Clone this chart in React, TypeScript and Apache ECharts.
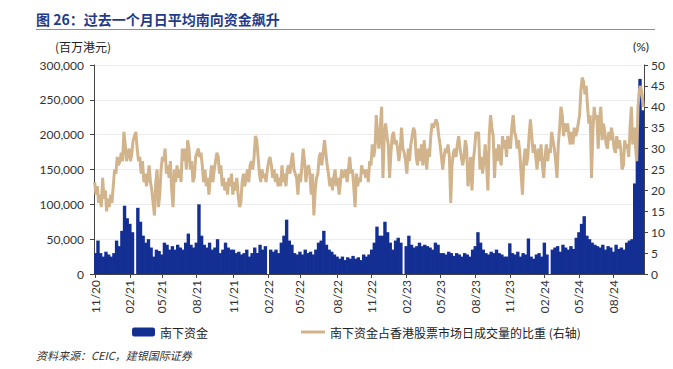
import React, { useEffect, useRef } from "react";
import * as echarts from "echarts";

// Weekly observations starting Monday 2020-11-02
const START_DATE = "2020-11-02";

// 南下资金 (百万港元), weekly readings in thousands
const flowK: number[] = [
  30, 48, 30, 25, 32, 28, 25, 30, 48, 40,
  62, 98, 80, 72, 60, 0, 95, 75, 55, 45,
  50, 38, 25, 35, 33, 28, 45, 42, 35, 40,
  35, 42, 38, 35, 45, 58, 42, 38, 45, 100,
  55, 42, 38, 45, 35, 38, 50, 30, 35, 45,
  38, 35,
  35, 30, 32, 28, 30, 35, 25, 30, 38, 30,
  42, 35, 40, 0, 35, 32, 35, 30, 45, 55,
  78, 48, 42, 30, 28, 32, 28, 35, 30, 32,
  28, 35, 45, 48, 62, 42, 35, 32, 28, 25,
  22, 25, 20, 24, 22, 26, 22, 24, 20, 28,
  25, 28, 35, 45, 68, 55, 55, 75, 60, 45,
  35, 48, 52, 45, 0, 40, 55, 42, 38, 40,
  45, 40, 42, 40, 38, 35, 45, 42, 30, 30,
  28, 32, 30, 26, 30, 28, 25, 30, 28, 25,
  35, 40, 60, 45, 35, 30, 28, 32, 30, 35,
  30, 28, 25, 25, 44, 30, 28, 32, 25, 30,
  28, 51, 25, 22, 28, 30, 25, 45, 28, 0,
  35, 38, 40, 32, 42, 38, 35, 40, 36, 52,
  60, 72, 83, 55, 50, 45, 42, 40, 38, 42,
  35, 40, 38, 32, 42, 36, 38, 35, 45, 48,
  50, 130, 210, 280, 235,
];

// 南下资金占香港股票市场日成交量的比重 (%), half-weekly readings
const sharePct: number[] = [
  22, 19, 21, 17, 19, 16, 23, 18, 20, 15,
  18, 16, 19, 17, 21, 25, 24, 28, 26, 27,
  29, 27, 34, 31, 27, 29, 30, 27, 29, 32,
  33, 34, 30, 27, 28, 24, 27, 22, 24, 21,
  23, 26, 22, 20, 17, 14, 22, 25, 16, 19,
  25, 28, 27, 30, 24, 26, 23, 27, 20, 16,
  25, 22, 26, 23, 25, 22, 30, 27, 30, 25,
  32, 30, 25, 27, 22, 23, 28, 29, 30, 28,
  29, 26, 22, 25, 21, 23, 19, 23, 26, 22,
  25, 27, 29, 28, 24, 26, 21, 23, 20, 22,
  19, 23, 21, 24, 19, 22, 20, 23, 19, 16,
  17, 22, 24, 21, 23, 25, 22, 26, 27, 25,
  28, 33, 32, 28, 24, 22, 25, 23, 24, 22,
  25, 27, 28, 26, 23, 25, 22, 24, 21, 23,
  21, 26, 22, 24, 21, 25, 26, 24, 27, 29,
  25, 24, 23, 19, 24, 22, 26, 30, 27, 22,
  25, 26, 24, 19, 24, 14, 20, 23, 24, 28,
  29, 26, 29, 32, 29, 26, 24, 21, 23, 20,
  23, 25, 21, 23, 19, 22, 25, 23, 24, 25,
  22, 25, 28, 24, 25, 21, 16, 24, 21, 23,
  22, 26, 24, 25, 23, 25, 22, 27, 26, 31,
  28, 30, 38, 33, 30, 35, 40, 23, 33, 36,
  33, 31, 23, 29, 33, 34, 31, 32, 30, 27,
  30, 35, 30, 29, 27, 24, 30, 27, 31, 33,
  35, 34, 28, 26, 30, 27, 31, 26, 32, 28,
  25, 30, 28, 33, 36, 35, 36, 37, 36, 33,
  31, 28, 25, 28, 30, 29, 31, 28, 17, 26,
  29, 30, 28, 31, 33, 30, 28, 26,
  28, 32, 30, 21, 24, 28, 20, 27, 30, 34,
  33, 34, 25, 28, 24, 27, 31, 26, 20, 33,
  38, 35, 33, 23, 30, 27, 31, 28, 26, 33,
  30, 32, 28, 33, 31, 30, 35, 38, 34, 33,
  30, 32, 29, 24, 19, 27, 30, 26, 28, 33,
  37, 33, 29, 31, 28, 25, 30, 27, 31, 26,
  23, 28, 31, 27, 30, 29, 34, 32, 30, 27,
  23, 31, 35, 40, 38, 33, 36, 34, 36, 33,
  31, 34, 31, 35, 33, 34, 36, 38, 44, 47,
  46, 43, 45, 40, 36, 38, 23, 34, 40, 37,
  38, 30, 37, 40, 32, 36, 34, 31, 30, 34,
  32, 35, 33, 30, 29, 33, 30, 32, 30, 25,
  26, 32, 30, 31, 28, 35, 40, 31, 35, 31,
  27, 40, 44, 45, 43, 40,
];

const QUARTER_MONTHS = [2, 5, 8, 11];

const SERIES_FLOW = "南下资金";
const SERIES_SHARE = "南下资金占香港股票市场日成交量的比重 (右轴)";

function buildCategories(n: number) {
  const cats: string[] = [];
  const labels: string[] = [];
  const base = new Date(START_DATE + "T00:00:00Z").getTime();
  const day = 86400000;
  for (let i = 0; i < n; i++) {
    const d = new Date(base + i * 7 * day);
    const e = new Date(base + (i * 7 + 6) * day);
    cats.push(d.toISOString().slice(0, 10));
    const m = i === 0 ? d.getUTCMonth() + 1 : e.getUTCMonth() + 1;
    const yr = i === 0 ? d.getUTCFullYear() : e.getUTCFullYear();
    if ((i === 0 || e.getUTCDate() <= 7) && QUARTER_MONTHS.includes(m)) {
      const mm = String(m).padStart(2, "0");
      const yy = String(yr % 100).padStart(2, "0");
      labels.push(mm + "/" + yy);
    } else {
      labels.push("");
    }
  }
  return { cats, labels };
}

export default function App() {
  const ref = useRef<HTMLDivElement>(null);
  useEffect(() => {
    if (!ref.current) return;
    const chart = echarts.init(ref.current, undefined, { renderer: "svg" });
    const { cats, labels } = buildCategories(flowK.length);
    const flow = flowK.map((v) => v * 1000);
    const halfCats = sharePct.map((_v, i) => String(i));
    const latin = "Lato, 'Noto Sans CJK SC', sans-serif";
    const cjk = "'Noto Sans CJK SC', sans-serif";
    const blue = "#142f93";
    const tan = "#d2b48c";
    chart.setOption({
      animation: false,
      backgroundColor: "#ffffff",
      grid: { left: 94, right: 29, top: 65, bottom: 95 },
      legend: [
        {
          data: [SERIES_FLOW],
          left: 127,
          top: 321,
          itemWidth: 23,
          itemHeight: 9,
          textStyle: { fontFamily: cjk, fontSize: 12, color: "#222" },
        },
        {
          data: [{ name: SERIES_SHARE, icon: "rect" }],
          left: 296,
          top: 321,
          itemWidth: 24,
          itemHeight: 3,
          textStyle: { fontFamily: cjk, fontSize: 12, color: "#222" },
        },
      ],
      xAxis: [
        {
          type: "category",
          data: cats,
          boundaryGap: true,
          axisLine: { lineStyle: { color: "#444", width: 1 } },
          axisTick: {
            show: true,
            alignWithLabel: true,
            length: 4,
            interval: (idx: number) => labels[idx] !== "",
            lineStyle: { color: "#444" },
          },
          axisLabel: {
            interval: (idx: number) => labels[idx] !== "",
            formatter: (_v: string, idx: number) => labels[idx],
            rotate: 90,
            margin: 6,
            fontSize: 12,
            fontFamily: latin,
            color: "#333",
          },
        },
        {
          type: "category",
          data: halfCats,
          boundaryGap: true,
          show: false,
        },
      ],
      yAxis: [
        {
          type: "value",
          min: 0,
          max: 300000,
          interval: 50000,
          axisLine: { show: true, lineStyle: { color: "#444" } },
          axisTick: { show: true, length: 4, lineStyle: { color: "#444" } },
          splitLine: { show: true, lineStyle: { color: "#ececec" } },
          axisLabel: {
            margin: 10,
            fontSize: 12,
            fontFamily: latin,
            color: "#333",
            formatter: (v: number) => v.toLocaleString("en-US"),
          },
        },
        {
          type: "value",
          position: "right",
          min: 0,
          max: 50,
          interval: 5,
          axisLine: { show: true, lineStyle: { color: "#444" } },
          axisTick: { show: true, length: 4, lineStyle: { color: "#444" } },
          splitLine: { show: false },
          axisLabel: {
            margin: 7,
            fontSize: 12,
            fontFamily: latin,
            color: "#333",
          },
        },
      ],
      series: [
        {
          name: SERIES_FLOW,
          type: "bar",
          data: flow,
          xAxisIndex: 0,
          yAxisIndex: 0,
          barWidth: 3.4,
          barGap: "0%",
          itemStyle: { color: blue },
        },
        {
          name: SERIES_SHARE,
          type: "line",
          data: sharePct,
          xAxisIndex: 1,
          yAxisIndex: 1,
          symbol: "none",
          z: 3,
          lineStyle: { color: tan, width: 3 },
          itemStyle: { color: tan },
        },
      ],
      graphic: [
        {
          type: "text",
          left: 36,
          top: 12,
          style: {
            text: "图 26：过去一个月日平均南向资金飙升",
            fontFamily: cjk,
            fontSize: 14,
            fontWeight: "bold",
            fill: "#1f3a8a",
          },
        },
        {
          type: "line",
          shape: { x1: 36, y1: 29.5, x2: 655, y2: 29.5 },
          style: { stroke: "#7d8cc4", lineWidth: 1 },
        },
        {
          type: "text",
          left: 55,
          top: 40,
          style: { text: "(百万港元)", fontFamily: cjk, fontSize: 12, fill: "#222" },
        },
        {
          type: "text",
          left: 633,
          top: 40,
          style: { text: "(%)", fontFamily: latin, fontSize: 12, fill: "#222" },
        },
        {
          type: "text",
          left: 36,
          top: 349,
          style: {
            text: "资料来源：CEIC，建银国际证券",
            fontFamily: cjk,
            fontSize: 11,
            fontStyle: "italic",
            fill: "#333",
          },
        },
      ],
    });
    return () => chart.dispose();
  }, []);
  return <div ref={ref} style={{ width: 673, height: 369, position: "absolute", left: 0, top: 0 }} />;
}
